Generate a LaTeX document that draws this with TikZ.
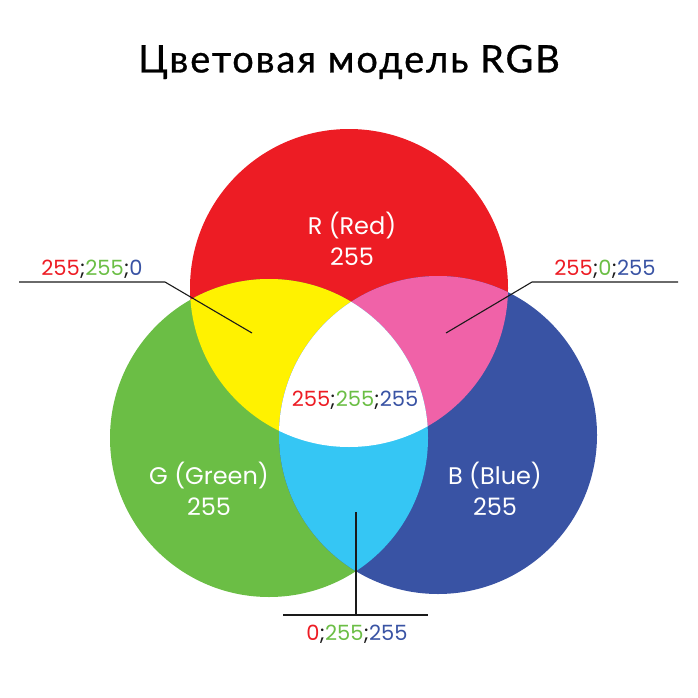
\documentclass[tikz,border=0pt]{standalone}
\usepackage{fontspec}
\setmainfont{Poppins}
\newfontfamily\titlefont[LetterSpace=5,FakeBold=0.8]{Lato}
\definecolor{cR}{HTML}{ED1C24}
\definecolor{cG}{HTML}{6BBE45}
\definecolor{cB}{HTML}{3953A4}
\definecolor{cY}{HTML}{FFF200}
\definecolor{cM}{HTML}{F062A8}
\definecolor{cC}{HTML}{35C6F4}
\definecolor{cK}{HTML}{1A1A1A}
\tikzset{
  wlabel/.style={text=white,font=\fontsize{24}{31}\selectfont,align=center,inner sep=0pt},
  vlabel/.style={font=\fontsize{21}{25}\selectfont,inner sep=0pt,text=cK},
  leader/.style={draw=cK,line width=1.1pt},
}
\newcommand{\rgbv}[3]{{\color{cR}#1};{\color{cG}#2};{\color{cB}#3}}
\begin{document}
\begin{tikzpicture}[x=1pt,y=-1pt]
\useasboundingbox (0,0) rectangle (698,698);
\coordinate (Rc) at (349,288);
\coordinate (Gc) at (269,438);
\coordinate (Bc) at (438,435);
\def\rad{159pt}
% base circles
\fill[cR] (Rc) circle[radius=\rad];
\fill[cG] (Gc) circle[radius=\rad];
\fill[cB] (Bc) circle[radius=\rad];
% pairwise overlaps
\begin{scope}
  \clip (Rc) circle[radius=\rad];
  \fill[cY] (Gc) circle[radius=\rad];
  \fill[cM] (Bc) circle[radius=\rad];
\end{scope}
\begin{scope}
  \clip (Gc) circle[radius=\rad];
  \fill[cC] (Bc) circle[radius=\rad];
\end{scope}
\begin{scope}
  \clip (Rc) circle[radius=\rad];
  \clip (Gc) circle[radius=\rad];
  \fill[white] (Bc) circle[radius=\rad];
\end{scope}
% title
\node[font=\titlefont\fontsize{38}{44}\selectfont,inner sep=0pt] (title) at (349,62) {Цветовая модель RGB};
% circle labels
\node[wlabel] (lR) at (352,239) {R (Red)\\255};
\node[wlabel] (lG) at (209,489) {G (Green)\\255};
\node[wlabel] (lB) at (495,489) {B (Blue)\\255};
% value labels
\node[vlabel] (vW) at (355,400) {\rgbv{255}{255}{255}};
\node[vlabel] (vY) at (92,269) {\rgbv{255}{255}{0}};
\node[vlabel] (vM) at (605,269) {\rgbv{255}{0}{255}};
\node[vlabel] (vC) at (357,634) {\rgbv{0}{255}{255}};
% leaders
\coordinate (yA) at (19,282);
\coordinate (yB) at (165,282);
\coordinate (yC) at (252,333);
\draw[leader] (yA) -- (yB) -- (yC);
\coordinate (mA) at (678,282);
\coordinate (mB) at (532,282);
\coordinate (mC) at (446,333);
\draw[leader] (mA) -- (mB) -- (mC);
\coordinate (cA) at (283,615);
\coordinate (cB2) at (428,615);
\coordinate (cTop) at (356,512);
\coordinate (cBot) at (356,615);
\draw[leader] (cA) -- (cB2);
\draw[leader] (cTop) -- (cBot);
\end{tikzpicture}
\end{document}
